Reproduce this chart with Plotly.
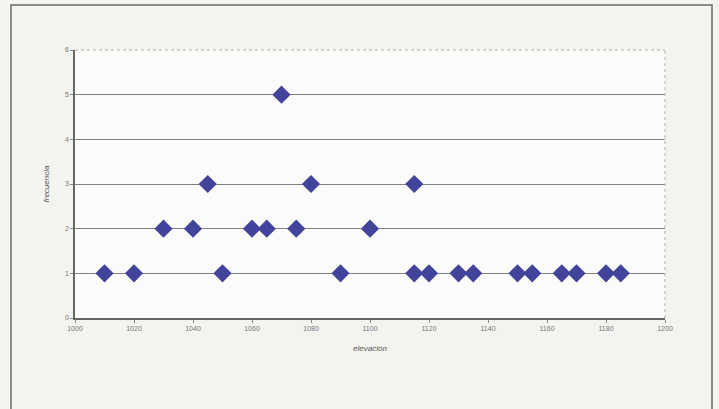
import plotly.graph_objects as go

elevacion = [1010, 1020, 1030, 1040, 1045, 1050, 1060, 1065, 1070, 1075, 1080, 1090,
             1100, 1115, 1115, 1120, 1130, 1135, 1150, 1155, 1165, 1170, 1180, 1185]
frecuencia = [1, 1, 2, 2, 3, 1, 2, 2, 5, 2, 3, 1,
              2, 3, 1, 1, 1, 1, 1, 1, 1, 1, 1, 1]
x_ticks = [1000, 1020, 1040, 1060, 1080, 1100, 1120, 1140, 1160, 1180, 1200]
y_ticks = [0, 1, 2, 3, 4, 5, 6]

fig = go.Figure()
fig.add_trace(go.Scatter(
    x=elevacion, y=frecuencia, mode="markers",
    marker=dict(symbol="diamond", size=14, color="#41449a",
                line=dict(width=0)),
    showlegend=False, cliponaxis=False,
))

W, H = 719, 409
L, R, T, B = 75, 54, 50, 91
pw, ph = W - L - R, H - T - B

def px(x):
    return (x - L) / pw

def py(y):
    return (H - B - y) / ph

fig.add_shape(type="rect", xref="paper", yref="paper",
              x0=px(11), x1=px(712), y0=py(430), y1=py(5),
              line=dict(color="#6a6a6a", width=1.5), layer="below")

fig.update_layout(
    width=W, height=H,
    margin=dict(l=L, r=R, t=T, b=B),
    paper_bgcolor="#f3f3f0",
    plot_bgcolor="#fbfbf9",
    font=dict(family="Liberation Sans, Arial, sans-serif", color="#6a6a6a", size=7),
    xaxis=dict(
        range=[1000, 1200], tickvals=x_ticks, ticktext=[str(v) for v in x_ticks],
        showgrid=False, zeroline=False,
        showline=True, linecolor="#666666", linewidth=1.5,
        ticks="outside", ticklen=3, tickcolor="#888888",
        mirror=False,
        title=dict(text="<i>elevación</i>", font=dict(size=8, color="#555555"), standoff=14),
        tickfont=dict(size=7, color="#777777"),
    ),
    yaxis=dict(
        range=[0, 6], tickvals=y_ticks,
        showgrid=True, gridcolor="#808080", gridwidth=1.3,
        zeroline=False,
        showline=True, linecolor="#666666", linewidth=1.5,
        ticks="outside", ticklen=3, tickcolor="#888888",
        title=dict(text="<i>frecuencia</i>", font=dict(size=8, color="#555555"), standoff=14),
        tickfont=dict(size=7, color="#777777"),
    ),
)

# light dotted right/top plot-area border
fig.add_shape(type="line", xref="paper", yref="paper", x0=1, x1=1, y0=0, y1=1,
              line=dict(color="#b0b0b0", width=1, dash="dot"))
fig.add_shape(type="line", xref="paper", yref="paper", x0=0, x1=1, y0=1, y1=1,
              line=dict(color="#b0b0b0", width=1, dash="dot"))

fig.write_html("out.html",
               config={"displayModeBar": False},
               post_script="document.body.style.margin='0';document.body.style.background='#f3f3f0';")
